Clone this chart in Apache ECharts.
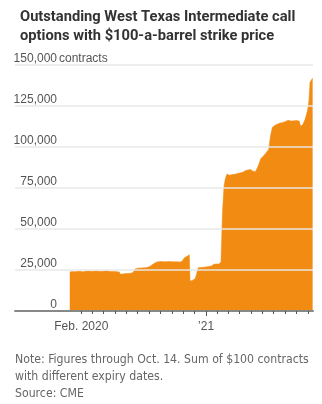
<!DOCTYPE html>
<html>
<head>
<meta charset="utf-8">
<script src="https://cdn.jsdelivr.net/npm/echarts@6/dist/echarts.min.js"></script>
<style>
html,body{margin:0;padding:0;background:#fff;}
#chart{width:322px;height:404px;}
</style>
</head>
<body>
<div id="chart"></div>
<script>
// ---- data ----
const titleText = 'Outstanding West Texas Intermediate call\noptions with $100-a-barrel strike price';
const unitText = 'contracts';
const noteText = 'Note: Figures through Oct. 14. Sum of $100 contracts\nwith different expiry dates.\nSource: CME';

const dates = [
'2020-01-01','2020-01-08','2020-01-15','2020-01-22','2020-01-29','2020-02-05','2020-02-12','2020-02-19','2020-02-26',
'2020-03-04','2020-03-11','2020-03-18','2020-03-25','2020-04-01','2020-04-08','2020-04-15','2020-04-22','2020-04-29',
'2020-05-06','2020-05-13','2020-05-15','2020-05-22','2020-05-29','2020-06-05','2020-06-12','2020-06-19','2020-06-24',
'2020-07-01','2020-07-08','2020-07-15','2020-07-22','2020-07-29','2020-08-05','2020-08-12','2020-08-19','2020-08-26',
'2020-09-02','2020-09-09','2020-09-16','2020-09-23','2020-09-30','2020-10-07','2020-10-14','2020-10-21','2020-10-28',
'2020-11-04','2020-11-11','2020-11-17','2020-11-19','2020-11-26','2020-12-03','2020-12-08','2020-12-11','2020-12-18',
'2020-12-25','2021-01-01','2021-01-08','2021-01-15','2021-01-22','2021-01-29','2021-02-05','2021-02-10','2021-02-14',
'2021-02-18','2021-02-22','2021-02-26','2021-03-05','2021-03-12','2021-03-19','2021-03-26','2021-04-02','2021-04-09',
'2021-04-16','2021-04-23','2021-04-30','2021-05-07','2021-05-14','2021-05-21','2021-05-28','2021-06-04','2021-06-11',
'2021-06-18','2021-06-23','2021-06-28','2021-07-05','2021-07-12','2021-07-19','2021-07-26','2021-08-02','2021-08-09',
'2021-08-14','2021-08-18','2021-08-25','2021-09-01','2021-09-08','2021-09-12','2021-09-18','2021-09-24','2021-09-30',
'2021-10-04','2021-10-07','2021-10-11','2021-10-14'
];
const contracts = [
23800,24100,24000,24300,24200,23900,24200,24400,24300,
24200,24400,24300,24200,24300,24500,24300,24100,24100,
24000,23800,22500,22600,22800,22900,23000,23400,25600,
26100,26200,26300,26400,26700,27500,28600,29600,30100,
30200,30100,30100,30200,30100,30000,30000,29900,30200,
32500,33400,34300,18200,18800,19800,20500,26400,26600,
26700,26900,27200,27400,28500,28700,28700,30000,60000,
76000,81000,83500,82800,83200,83400,83900,84200,84600,
85500,86000,86300,85200,85100,88500,93000,94500,96500,
98500,107000,112000,113200,114000,114600,115000,115500,116300,
117200,115800,116000,116100,115800,112600,113800,117000,122000,
128000,139500,140500,142000
];
const xMin = '2019-08-07';
const xMax = '2021-10-15';
const tickMonths = ['2020-02-01','2020-03-01','2020-04-01','2020-05-01','2020-06-01','2020-07-01','2020-08-01','2020-09-01',
'2020-10-01','2020-11-01','2020-12-01','2021-01-01','2021-02-01','2021-03-01','2021-04-01','2021-05-01','2021-06-01',
'2021-07-01','2021-08-01','2021-09-01','2021-10-01'];
const labelDates = ['2020-02-01','2021-01-01'];
const labelTexts = ['Feb. 2020','\u201921'];
const yMin = 0, yMax = 150000, yStep = 25000;

// ---- helpers ----
const t = s => { const p = s.split('-').map(Number); return +new Date(p[0], p[1]-1, p[2]); };
const seriesData = dates.map((d,i) => [t(d), contracts[i]]);
const labelMap = {};
labelDates.forEach((d,i) => { labelMap[t(d)] = labelTexts[i]; });

const FONT_T = "Roboto,sans-serif";
const FONT_N = "'DejaVu Sans Condensed','DejaVu Sans',sans-serif";
const FONT_R = "'Liberation Sans',Arial,sans-serif";
const orange = '#f28b12';

const chart = echarts.init(document.getElementById('chart'), null, {renderer:'canvas'});
chart.setOption({
  animation: false,
  backgroundColor: '#fff',
  title: {
    text: titleText,
    left: 15, top: 3,
    textStyle: {fontFamily: FONT_T, fontWeight: 'bold', fontSize: 14.7, lineHeight: 19, color: '#333'}
  },
  grid: {left: 15, right: 9, top: 65, bottom: 93},
  xAxis: [{
    type: 'value',
    min: t(xMin), max: t(xMax),
    splitLine: {show: false},
    axisLine: {show: true, lineStyle: {color: '#888', width: 2}},
    axisTick: {show: true, length: 3, lineStyle: {color: '#555', width: 1}, customValues: tickMonths.map(t)},
    axisLabel: {
      show: true, margin: 10, color: '#555', fontFamily: FONT_R, fontSize: 12,
      customValues: labelDates.map(t),
      formatter: v => labelMap[v] || ''
    },
    z: 5
  },{
    type: 'value',
    min: t(xMin), max: t(xMax),
    position: 'bottom',
    splitLine: {show: false},
    axisLine: {show: false},
    axisTick: {show: true, length: 5, lineStyle: {color: '#555', width: 1}, customValues: [t('2021-01-01')]},
    axisLabel: {show: false},
    z: 5
  }],
  yAxis: {
    type: 'value',
    min: yMin, max: yMax, interval: yStep,
    axisLine: {show: false},
    axisTick: {show: false},
    splitLine: {show: true, lineStyle: {color: 'rgba(232,232,232,0.72)', width: 2}},
    axisLabel: {
      inside: true, margin: 42, align: 'right', verticalAlign: 'bottom',
      lineHeight: 12, padding: 0,
      color: '#555', fontFamily: FONT_R, fontSize: 12,
      formatter: v => v.toLocaleString('en-US')
    },
    z: 5
  },
  graphic: [
    {type: 'text', left: 59, top: 53, style: {text: unitText, fill: '#555', font: "12px " + FONT_R}},
    {type: 'text', left: 15, top: 351, style: {text: noteText, fill: '#666', font: "12.2px " + FONT_N, lineHeight: 17}}
  ],
  series: [{
    type: 'line',
    data: seriesData,
    showSymbol: false,
    symbol: 'none',
    lineStyle: {width: 0.5, color: orange},
    areaStyle: {color: orange, opacity: 1},
    z: 2
  }]
});
</script>
</body>
</html>
